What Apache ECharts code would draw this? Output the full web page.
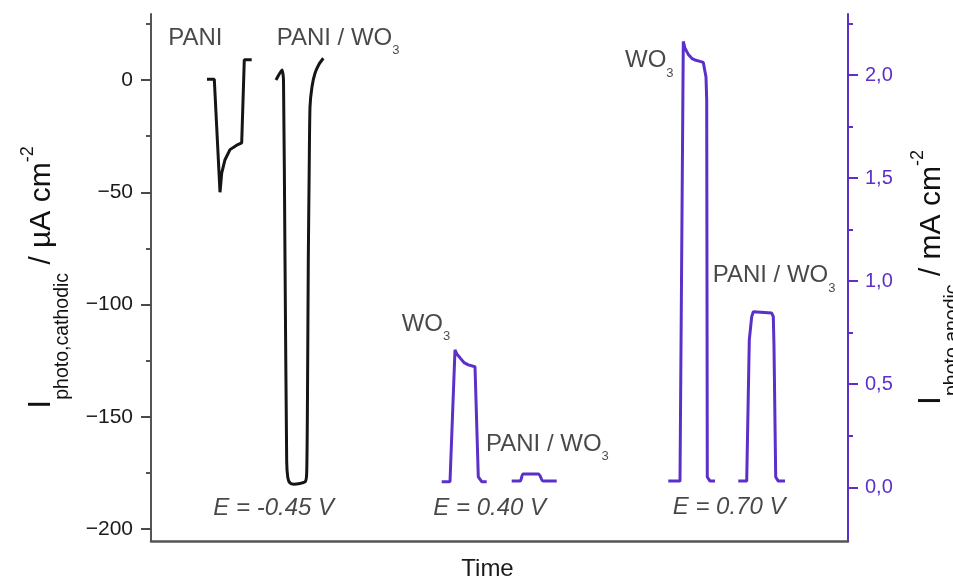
<!DOCTYPE html>
<html>
<head>
<meta charset="utf-8">
<script src="https://cdn.jsdelivr.net/npm/echarts@6/dist/echarts.min.js"></script>
<style>html,body{margin:0;padding:0;background:#fff;overflow:hidden}#c{width:953px;height:580px}</style>
</head>
<body>
<div id="c"></div>
<script>
// ---- data (time in arbitrary units) ----
// cathodic photocurrent, µA cm^-2 (left axis)
const paniT   = [56, 63.3, 69, 70.7, 74, 79, 85.7, 90.7, 93.3, 100.7];
const paniI   = [0.3, 0.3, -50, -41.5, -35.5, -31, -29, -28, 9, 9];
const pwCatT  = [125, 131, 132.5, 134, 135.7, 136.8, 139, 143, 154, 155.7, 156.5, 157.3, 158.2, 159, 161, 164, 168, 172.3];
const pwCatI  = [0, 4.5, 0, -80, -170, -177, -179.5, -180, -179, -175, -140, -80, -40, -12, -3, 3, 7, 9.7];
// anodic photocurrent, mA cm^-2 (right axis)
const wo040T  = [290.7, 299, 304, 306, 309, 313, 317.3, 324, 327.3, 330.7, 335.7];
const wo040I  = [0.027, 0.027, 0.667, 0.645, 0.628, 0.605, 0.594, 0.585, 0.05, 0.027, 0.027];
const pw040T  = [360.7, 369, 372.3, 387.3, 392.3, 405.7];
const pw040I  = [0.03, 0.03, 0.065, 0.065, 0.03, 0.03];
const wo070T  = [517.3, 529, 532.3, 534, 537.3, 541, 544, 549, 552.3, 555, 555.7, 556.3, 559, 564];
const wo070I  = [0.03, 0.03, 2.163, 2.13, 2.10, 2.08, 2.073, 2.066, 2.061, 1.99, 1.88, 0.05, 0.03, 0.03];
const pw070T  = [587.3, 595.7, 598.3, 600.7, 602.3, 620.7, 622.3, 623, 624.7, 627.3, 634];
const pw070I  = [0.03, 0.03, 0.715, 0.828, 0.852, 0.845, 0.828, 0.683, 0.05, 0.03, 0.03];
// axis ticks
const leftTicks   = [-200, -150, -100, -50, 0];
const leftMinor   = [-175, -125, -75, -25, 25];
const rightTicks  = [0, 0.5, 1.0, 1.5, 2.0];
const rightMinor  = [0.25, 0.75, 1.25, 1.75, 2.25];
// annotations: time, left-axis value, text
const annT    = [17.3, 125.7, 250.7, 335, 474, 561.7, 62.3, 282.3, 521.7];
const annV    = [23.9, 23.9, -103.3, -156.8, 13.9, -81.8, -185.3, -185.3, -184.9];
const annText = ['{n|PANI}', '{n|PANI / WO}{s|3}', '{n|WO}{s|3}', '{n|PANI / WO}{s|3}', '{n|WO}{s|3}', '{n|PANI / WO}{s|3}',
                 '{e|E = -0.45 V}', '{e|E = 0.40 V}', '{e|E = 0.70 V}'];

const FONT = 'Liberation Sans, Arial, sans-serif';
const PURPLE = '#5b30c8';
const GREY = '#555';
const BLACK = '#151515';
const TXT = '#1a1a1a';

function zip(t, v) { return t.map((x, i) => [x, v[i]]); }

const chart = echarts.init(document.getElementById('c'), null, {renderer: 'canvas', width: 953, height: 580});

const nameRich = {
  i:   {fontFamily: FONT, fontSize: 32, lineHeight: 32, verticalAlign: 'top', padding: [6, 0, 0, 0], color: '#111'},
  sub: {fontFamily: FONT, fontSize: 19.5, lineHeight: 19.5, verticalAlign: 'top', padding: [33.7, 0, 0, 0], color: '#111'},
  m:   {fontFamily: FONT, fontSize: 30, lineHeight: 30, verticalAlign: 'top', padding: [7.8, 0, 0, 0], color: '#111'},
  sup: {fontFamily: FONT, fontSize: 18, lineHeight: 18, verticalAlign: 'top', padding: [0, 0, 0, 0], color: '#111'}
};

const annRich = {
  n: {fontFamily: FONT, fontSize: 24, lineHeight: 24, verticalAlign: 'top', color: TXT},
  s: {fontFamily: FONT, fontSize: 13, lineHeight: 13, verticalAlign: 'top', padding: [18, 0, 0, 0], color: TXT},
  e: {fontFamily: FONT, fontSize: 24, lineHeight: 24, verticalAlign: 'top', fontStyle: 'italic', color: TXT}
};

const L_MIN = -205.3, L_MAX = 29.4, R_MIN = -0.2605, R_MAX = 2.296;

function tickAxis(pos, min, max, values, len, color, offset, inside) {
  return {type: 'value', position: pos, min: min, max: max, offset: offset || 0,
          axisLine: {show: false, onZero: false}, splitLine: {show: false}, axisLabel: {show: false},
          axisTick: {show: true, inside: !!inside, customValues: values, length: len, lineStyle: {color: color, width: 2}}};
}

const leftAllTicks = leftMinor.concat(leftTicks).sort((a, b) => a - b);

const option = {
  animation: false,
  backgroundColor: '#fff',
  grid: [{left: 151, right: 105, top: 14, bottom: 39, outerBoundsMode: 'none', containLabel: false}],
  xAxis: [
    {type: 'value', min: 0, max: 697,
     axisLine: {show: true, onZero: false, lineStyle: {color: GREY, width: 2.5}},
     axisTick: {show: false}, axisLabel: {show: false}, splitLine: {show: false},
     name: 'Time', nameLocation: 'middle', nameGap: 16,
     nameTextStyle: {fontFamily: FONT, fontSize: 24, color: TXT, verticalAlign: 'top', padding: [0, 24, 0, 0]}}
  ],
  yAxis: [
    {type: 'value', position: 'left', min: L_MIN, max: L_MAX,
     axisLine: {show: true, onZero: false, lineStyle: {color: GREY, width: 2}},
     axisTick: {show: true, customValues: leftTicks, length: 10, lineStyle: {color: GREY, width: 2}},
     axisLabel: {show: true, customValues: leftTicks, margin: 18, fontFamily: FONT, fontSize: 21, color: TXT,
                 formatter: v => String(v).replace('-', '\u2212')},
     splitLine: {show: false},
     name: '{i|I}{sub|photo,cathodic}{m| / µA cm}{sup|-2}', nameLocation: 'middle', nameRotate: 90, nameGap: 100,
     nameTextStyle: {rich: nameRich}},
    {type: 'value', position: 'right', min: R_MIN, max: R_MAX,
     axisLine: {show: true, onZero: false, lineStyle: {color: PURPLE, width: 2}},
     axisTick: {show: true, customValues: rightTicks, length: 10, lineStyle: {color: PURPLE, width: 2}},
     axisLabel: {show: true, customValues: rightTicks, margin: 17, fontFamily: FONT, fontSize: 20, color: PURPLE,
                 formatter: v => v.toFixed(1).replace('.', ',')},
     splitLine: {show: false},
     name: '{i|I}{sub|photo,anodic}{m| / mA cm}{sup|-2}', nameLocation: 'middle', nameRotate: 90, nameGap: 61,
     nameTextStyle: {rich: nameRich}},
    tickAxis('left', L_MIN, L_MAX, leftAllTicks, 5, GREY, 0, false),
    tickAxis('right', R_MIN, R_MAX, rightMinor, 5, PURPLE, 0, false),
    tickAxis('left', L_MIN, L_MAX, leftTicks, 10, '#4a4a4a', 10, true)
  ],
  series: [
    {type: 'line', yAxisIndex: 0, data: zip(paniT, paniI), showSymbol: false,
     lineStyle: {color: BLACK, width: 3}, itemStyle: {color: BLACK}},
    {type: 'line', yAxisIndex: 0, data: zip(pwCatT, pwCatI), showSymbol: false, smooth: 0.2,
     lineStyle: {color: BLACK, width: 3}, itemStyle: {color: BLACK}},
    {type: 'line', yAxisIndex: 1, data: zip(wo040T, wo040I), showSymbol: false,
     lineStyle: {color: PURPLE, width: 3}, itemStyle: {color: PURPLE}},
    {type: 'line', yAxisIndex: 1, data: zip(pw040T, pw040I), showSymbol: false, smooth: 0.3,
     lineStyle: {color: PURPLE, width: 3}, itemStyle: {color: PURPLE}},
    {type: 'line', yAxisIndex: 1, data: zip(wo070T, wo070I), showSymbol: false,
     lineStyle: {color: PURPLE, width: 3}, itemStyle: {color: PURPLE}},
    {type: 'line', yAxisIndex: 1, data: zip(pw070T, pw070I), showSymbol: false,
     lineStyle: {color: PURPLE, width: 3}, itemStyle: {color: PURPLE}},
    {type: 'scatter', yAxisIndex: 0, silent: true, symbol: 'circle', symbolSize: 0,
     itemStyle: {color: 'rgba(0,0,0,0)'},
     data: annT.map((t, i) => ({value: [t, annV[i]], name: annText[i]})),
     label: {show: true, position: [0, 0], align: 'left', verticalAlign: 'top',
             formatter: p => p.name, rich: annRich}}
  ]
};
chart.setOption(option);
</script>
</body>
</html>
